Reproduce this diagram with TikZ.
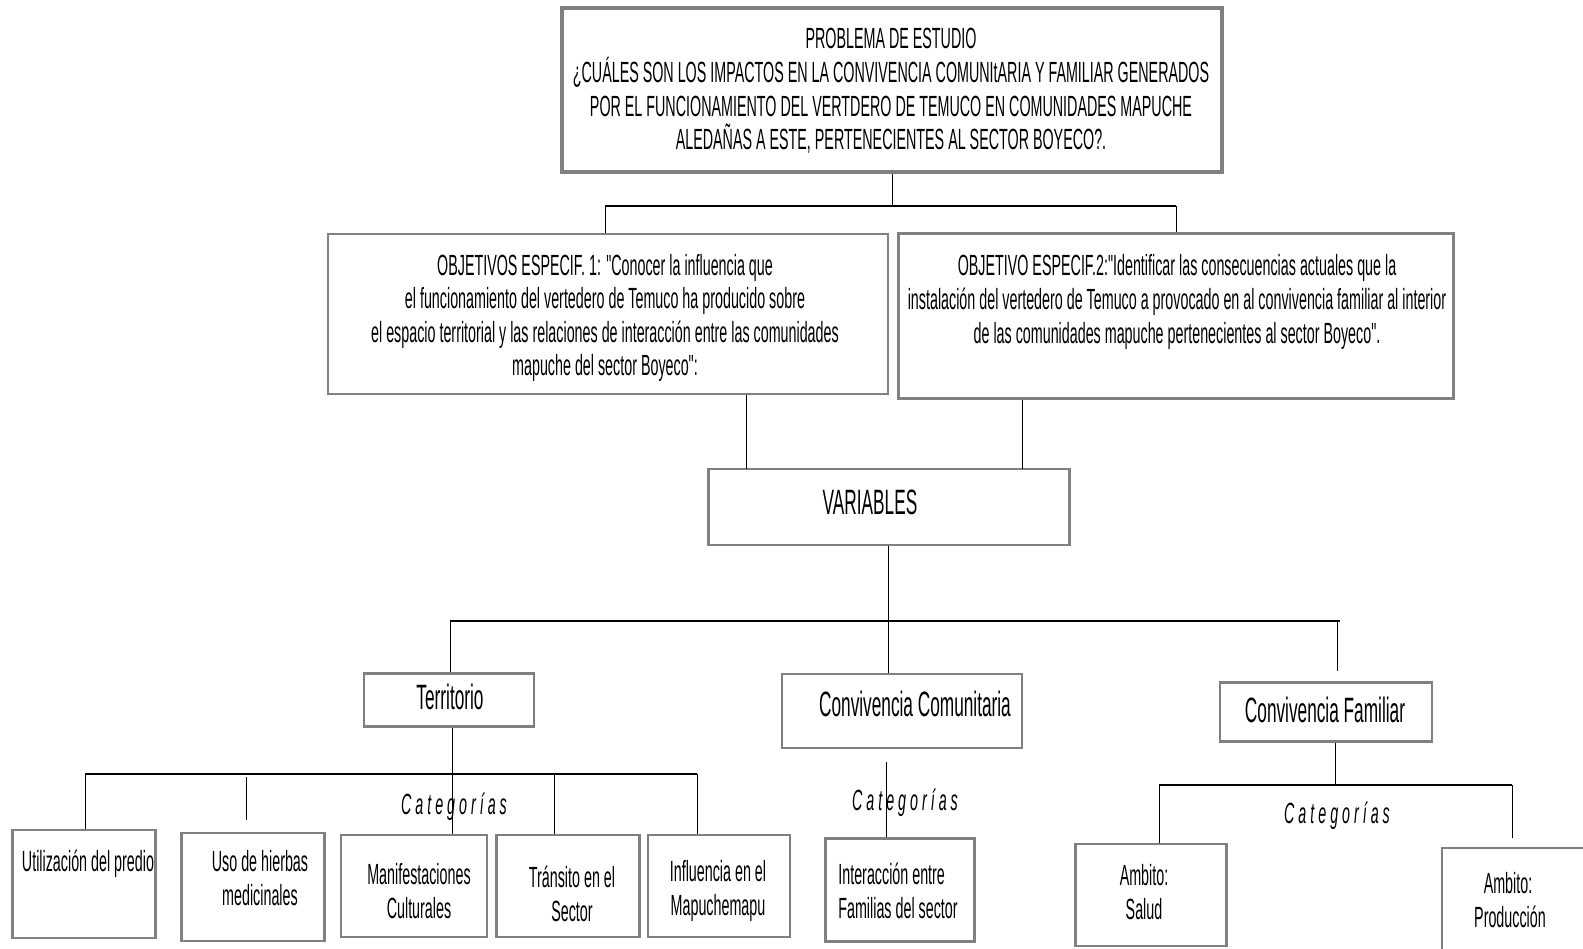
\documentclass[tikz,border=0pt]{standalone}
\usepackage{fontspec}
\setmainfont{Liberation Sans}[FakeStretch=0.49, Ligatures=TeXOff]
\usetikzlibrary{positioning}
\definecolor{boxgray}{RGB}{128,128,128}
\newcommand{\bodyfont}{\fontsize{14.6}{16.8}\selectfont}
\newcommand{\bigfont}{\fontsize{17.6}{20}\selectfont}

\begin{document}
\begin{tikzpicture}[x=0.5pt, y=-0.5pt,
    box/.style={draw=boxgray, line width=1.1pt, inner sep=0pt},
    topbox/.style={box, line width=1.8pt},
    txt/.style={align=center, inner sep=0pt, font=\bodyfont},
    bigtxt/.style={align=center, inner sep=0pt, font=\bigfont},
    cattxt/.style={inner sep=0pt, font=\bodyfont\itshape},
    edge/.style={line width=0.5pt},
    bar/.style={line width=1.4pt}]
  \useasboundingbox (0,0) rectangle (1583,948);
  % boxes
  \node[topbox, minimum width=330pt, minimum height=82pt] (prob) at (892,90) {};
  \node[box, minimum width=280pt, minimum height=80pt] (obj1) at (608,314) {};
  \node[box, minimum width=277.5pt, minimum height=82.5pt] (obj2) at (1176,316) {};
  \node[box, minimum width=180.5pt, minimum height=38pt] (var) at (889,507) {};
  \node[box, minimum width=85pt, minimum height=26.5pt] (terr) at (449,700) {};
  \node[box, minimum width=120pt, minimum height=37pt] (ccom) at (902,711) {};
  \node[box, minimum width=106pt, minimum height=29.5pt] (cfam) at (1326,712) {};
  \node[box, minimum width=71.5pt, minimum height=54pt] (util) at (84,884) {};
  \node[box, minimum width=71.5pt, minimum height=54pt] (uso) at (253,887) {};
  \node[box, minimum width=73pt, minimum height=51pt] (manif) at (414,886) {};
  \node[box, minimum width=71.5pt, minimum height=51pt] (trans) at (568,886) {};
  \node[box, minimum width=71pt, minimum height=51pt] (infl) at (719,886) {};
  \node[box, minimum width=74.5pt, minimum height=51.5pt] (inter) at (900,890) {};
  \node[box, minimum width=75.5pt, minimum height=51pt] (salud) at (1151,895) {};
  \node[box, minimum width=79pt, minimum height=56pt] (prod) at (1521,904) {};
  % texts
  \node[txt] (probtxt) at (891,91) {PROBLEMA DE ESTUDIO\\
    ¿CUÁLES SON LOS IMPACTOS EN LA CONVIVENCIA COMUNItARIA Y FAMILIAR GENERADOS\\
    POR EL FUNCIONAMIENTO DEL VERTDERO DE TEMUCO EN COMUNIDADES MAPUCHE\\
    ALEDAÑAS A ESTE, PERTENECIENTES AL SECTOR BOYECO?.};
  \node[txt] (obj1txt) at (605,318) {OBJETIVOS ESPECIF. 1: "Conocer la influencia que\\
    el funcionamiento del vertedero de Temuco ha producido sobre\\
    el espacio territorial y las relaciones de interacción entre las comunidades\\
    mapuche del sector Boyeco":};
  \node[txt] (obj2txt) at (1177,302) {OBJETIVO ESPECIF.2:"Identificar las consecuencias actuales que la\\
    instalación del vertedero de Temuco a provocado en al convivencia familiar al interior\\
    de las comunidades mapuche pertenecientes al sector Boyeco".};
  \node[bigtxt] (vartxt) at (870,502) {VARIABLES};
  \node[bigtxt] (terrtxt) at (450,697) {Territorio};
  \node[bigtxt] (ccomtxt) at (915,704) {Convivencia Comunitaria};
  \node[bigtxt] (cfamtxt) at (1325,710) {Convivencia Familiar};
  \node[txt] (utiltxt) at (88,864) {Utilización del predio};
  \node[txt] (usotxt) at (260,878) {Uso de hierbas\\ medicinales};
  \node[txt] (maniftxt) at (419,891) {Manifestaciones\\ Culturales};
  \node[txt] (transtxt) at (572,894) {Tránsito en el\\ Sector};
  \node[txt] (infltxt) at (718,891) {Influencia en el\\ Mapuchemapu};
  \node[txt, align=left] (intertxt) at (898,891) {Interacción entre\\ Familias del sector};
  \node[txt] (saludtxt) at (1144,892) {Ambito:\\ Salud};
  \node[txt] (prodtxt) at (1508,900) {Ambito:\\ \ Producción};
  \node[cattxt] (cat1) at (454,807) {C a t e g o r í a s};
  \node[cattxt] (cat2) at (905,803) {C a t e g o r í a s};
  \node[cattxt] (cat3) at (1337,816) {C a t e g o r í a s};
  % junctions
  \coordinate (b1l) at (605,206);
  \coordinate (b1r) at (1176,206);
  \coordinate (v1) at (746,469);
  \coordinate (v2) at (1022,469);
  \coordinate (b2l) at (450,621);
  \coordinate (b2r) at (1340,621);
  \coordinate (b3l) at (85,774);
  \coordinate (b3r) at (697,774);
  \coordinate (b4l) at (1159,785);
  \coordinate (b4r) at (1512,785);
  % connectors
  \draw[bar] (b1l) -- (b1r);
  \draw[edge] (prob.south) -- (prob.south |- b1l);
  \draw[edge] (b1l) -- (obj1.north -| b1l) (b1r) -- (obj2.north -| b1r);
  \draw[edge] (obj1.south -| v1) -- (v1) (obj2.south -| v2) -- (v2);
  \draw[bar] (b2l) -- (b2r);
  \draw[edge] (var.south -| 888,0) -- (ccom.north -| 888,0);
  \draw[edge] (b2l) -- (terr.north -| b2l);
  \draw[edge] (b2r -| 1337,0) -- (1337,671);
  \draw[bar] (b3l) -- (b3r);
  \draw[edge] (terr.south -| 452,0) -- (manif.north -| 452,0);
  \draw[edge] (b3l) -- (util.north -| b3l);
  \draw[edge] (246,777) -- (246,820);
  \draw[edge] (554,774) -- (trans.north -| 554,0);
  \draw[edge] (b3r) -- (infl.north -| b3r);
  \draw[edge] (886,762) -- (inter.north -| 886,0);
  \draw[bar] (b4l) -- (b4r);
  \draw[edge] (cfam.south -| 1335,0) -- (1335,785);
  \draw[edge] (b4l) -- (salud.north -| b4l);
  \draw[edge] (b4r) -- (1512,838);
\end{tikzpicture}
\end{document}
